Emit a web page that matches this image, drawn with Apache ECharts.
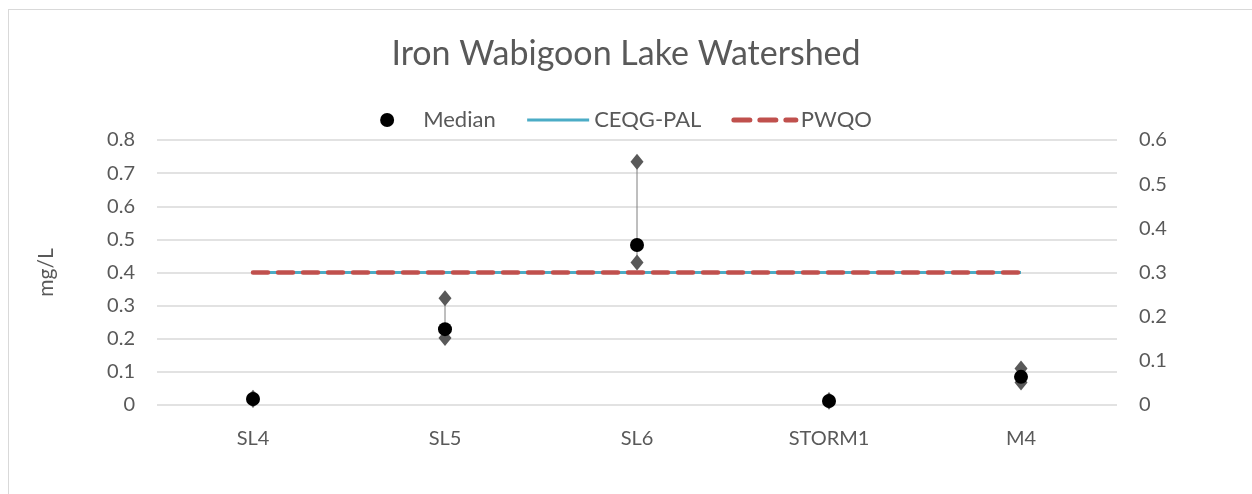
<!DOCTYPE html>
<html><head><meta charset="utf-8">
<script src="https://cdn.jsdelivr.net/npm/echarts@6/dist/echarts.min.js"></script>
<style>
html,body{margin:0;padding:0;background:#fff;}
#frame{position:absolute;left:8px;top:9px;width:1260px;height:500px;border:1px solid #d9d9d9;box-sizing:border-box;}
#c{position:absolute;left:0;top:0;width:1252px;height:494px;}
</style></head>
<body><div id="frame"></div><div id="c"></div>
<script>
const categories = ['SL4','SL5','SL6','STORM1','M4'];
const medianVals = [0.018, 0.229, 0.483, 0.012, 0.085];
const maxVals = [0.022, 0.322, 0.734, 0.015, 0.110];
const minVals = [0.015, 0.202, 0.430, 0.010, 0.068];
const ceqgVals = [0.4, 0.4, 0.4, 0.4, 0.4];
const pwqoVals = [0.4, 0.4, 0.4, 0.4, 0.4];
const leftTicks = {min:0, max:0.8, interval:0.1};
const rightTicks = {min:0, max:0.6, interval:0.1};

const FONT = 'Lato';
const TXT = '#595959';
const chart = echarts.init(document.getElementById('c'));
const rangeData = categories.map((c,i)=>[i, minVals[i], maxVals[i]]);
chart.setOption({
  animation:false,
  textStyle:{fontFamily:FONT},
  title:{text:'Iron Wabigoon Lake Watershed', left:'center', top:32,
    textStyle:{fontFamily:FONT, fontSize:34, fontWeight:'normal', color:TXT}},
  legend:{top:104, left:'center', itemGap:30, itemWidth:62, itemHeight:14,
    textStyle:{fontFamily:FONT, fontSize:22, color:TXT},
    data:[
      {name:'Median', icon:'circle', itemStyle:{color:'#000', opacity:1}},
      {name:'CEQG-PAL', itemStyle:{opacity:0}, lineStyle:{color:'#4bacc6', width:3}},
      {name:'PWQO', itemStyle:{opacity:0}, lineStyle:{color:'#c0504d', width:5, type:[16,10]}}
    ]},
  grid:{left:157, right:135, top:140, bottom:89},
  xAxis:{type:'category', data:categories, boundaryGap:true,
    axisLine:{show:false}, axisTick:{show:false},
    axisLabel:{fontFamily:FONT, fontSize:20, color:TXT, margin:24}},
  yAxis:[
    {type:'value', min:leftTicks.min, max:leftTicks.max, interval:leftTicks.interval,
     name:'mg/L', nameLocation:'middle', nameGap:100, nameRotate:90,
     nameTextStyle:{fontFamily:FONT, fontSize:21, color:TXT},
     axisLabel:{fontFamily:FONT, fontSize:20, color:TXT, margin:22, formatter:v=>String(+v.toFixed(1))},
     splitLine:{lineStyle:{color:'#d9d9d9', width:1.5}},
     axisLine:{show:false}, axisTick:{show:false}},
    {type:'value', min:rightTicks.min, max:rightTicks.max, interval:rightTicks.interval,
     position:'right', axisLabel:{fontFamily:FONT, fontSize:20, color:TXT, margin:22, formatter:v=>String(+v.toFixed(1))},
     splitLine:{show:false}, axisLine:{show:false}, axisTick:{show:false}}
  ],
  series:[
    {name:'Range', type:'custom', yAxisIndex:0, z:2,
     data:rangeData,
     renderItem:function(params, api){
       const p1 = api.coord([api.value(0), api.value(1)]);
       const p2 = api.coord([api.value(0), api.value(2)]);
       return {type:'line', shape:{x1:p1[0], y1:p1[1], x2:p2[0], y2:p2[1]},
         style:{stroke:'#7f7f7f', lineWidth:1}};
     }},
    {name:'CEQG-PAL', type:'line', data:ceqgVals, symbol:'none', z:3,
     lineStyle:{color:'#4bacc6', width:3}, itemStyle:{color:'#4bacc6'}},
    {name:'PWQO', type:'line', data:pwqoVals, symbol:'none', z:4,
     lineStyle:{color:'#c0504d', width:4.5, type:[15,10], cap:'round'}, itemStyle:{color:'#c0504d'}},
    {name:'Max', type:'scatter', data:maxVals, symbol:'diamond', symbolSize:[13,16], z:5,
     itemStyle:{color:'#595959', opacity:1}},
    {name:'Min', type:'scatter', data:minVals, symbol:'diamond', symbolSize:[13,16], z:5,
     itemStyle:{color:'#595959', opacity:1}},
    {name:'Median', type:'scatter', data:medianVals, symbol:'circle', symbolSize:14, z:6,
     itemStyle:{color:'#000', opacity:1}}
  ]
});
</script></body></html>
